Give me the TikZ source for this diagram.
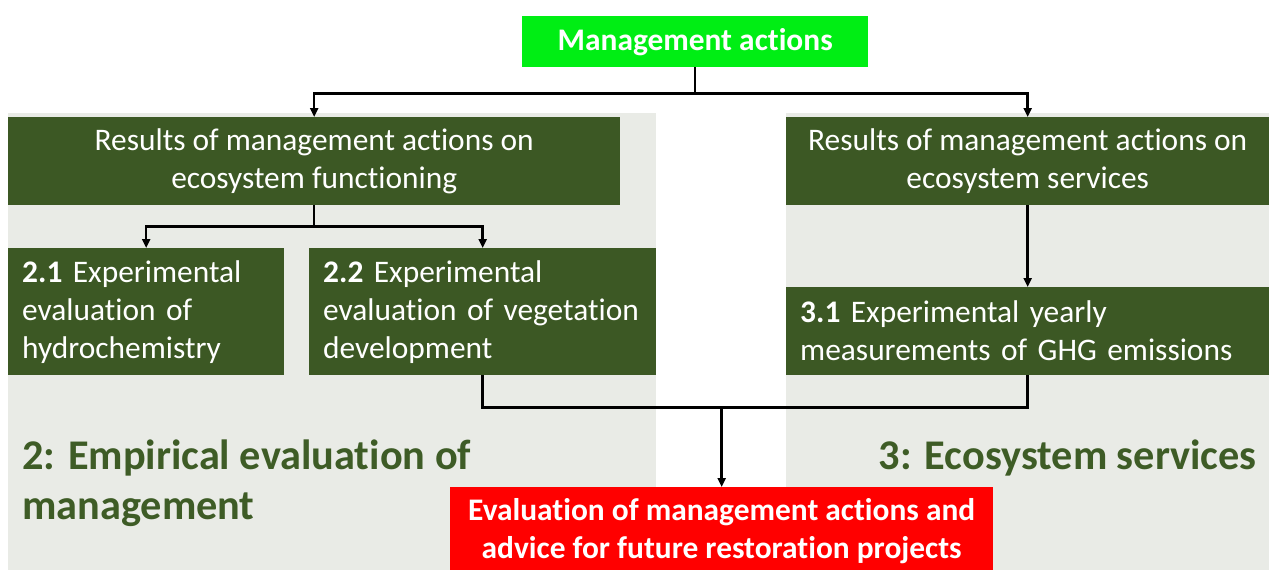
\documentclass[tikz,border=0pt]{standalone}
\usepackage{fontspec}
\setmainfont{Carlito}[Ligatures=NoCommon]
\usetikzlibrary{arrows.meta,calc}
\definecolor{leaf}{RGB}{60,88,36}
\definecolor{title}{RGB}{62,92,38}
\definecolor{panel}{RGB}{233,235,230}
\definecolor{lime}{RGB}{0,238,20}
\definecolor{alert}{RGB}{255,0,0}
\begin{document}
\begin{tikzpicture}[x=1pt,y=-1pt,
  box/.style={fill=leaf,text=white,anchor=north west,inner sep=0pt,
    font=\fontsize{31.4}{38}\selectfont},
  cbox/.style={box,align=center},
  lbox/.style={box,align=left,inner xsep=14pt},
  hot/.style={anchor=north west,inner sep=0pt,text=white,align=center,
    font=\fontsize{31.4}{38}\selectfont\bfseries},
  heading/.style={text=title,inner sep=0pt,
    font=\fontsize{42.3}{50}\selectfont\bfseries},
  arr/.style={line width=2.5pt,-{Triangle[length=9pt,width=8pt]}},
  ln/.style={line width=2.5pt}]
\useasboundingbox (0,0) rectangle (1269,570);
\fill[white] (0,0) rectangle (1269,570);
% shaded work-package panels
\fill[panel] (8,113) rectangle (656,570);
\fill[panel] (786,113) rectangle (1269,570);
% boxes
\node[hot,fill=lime,minimum width=346pt,minimum height=51pt] (top) at (522,16) {Management actions};
\node[cbox,minimum width=612pt,minimum height=88pt] (rf) at (8,117)
  {Results of management actions on\\ecosystem functioning};
\node[cbox,minimum width=483pt,minimum height=88pt] (rs) at (786,117)
  {Results of management actions on\\ecosystem services};
\node[lbox,minimum width=276pt,minimum height=127pt,text width=248pt] (b21) at (8,248)
  {\textbf{2.1} Experimental\\evaluation of\\hydrochemistry};
\node[lbox,minimum width=347pt,minimum height=127pt,text width=319pt] (b22) at (309,248)
  {\textbf{2.2} Experimental\\evaluation of vegetation\\development};
\node[lbox,minimum width=483pt,minimum height=88pt,text width=455pt] (b31) at (786,287)
  {\textbf{3.1} Experimental yearly\\measurements of GHG emissions};
\node[hot,fill=alert,minimum width=543pt,minimum height=88pt] (red) at (450,487)
  {Evaluation of management actions and\\advice for future restoration projects};
% headings
\node[heading,anchor=north west,align=left] (h2) at (22,440)
  {2: Empirical evaluation of\\management};
\node[heading,anchor=north east] (h3) at (1257,440) {3: Ecosystem services};
% connectors
\draw[arr] (top.south) -- ++(0,26) -| (rf.north);
\draw[arr] (top.south) -- ++(0,26) -| (rs.north);
\draw[arr] (rf.south) -- ++(0,21) -| (b21.north);
\draw[arr] (rf.south) -- ++(0,21) -| (b22.north);
\draw[arr] (rs.south) -- (b31.north);
\coordinate (j) at ($(b22.south)+(0,32)$);
\draw[ln] (b22.south) -- (j) -| (b31.south);
\draw[arr] (j -| red.north) -- (red.north);
\end{tikzpicture}
\end{document}
